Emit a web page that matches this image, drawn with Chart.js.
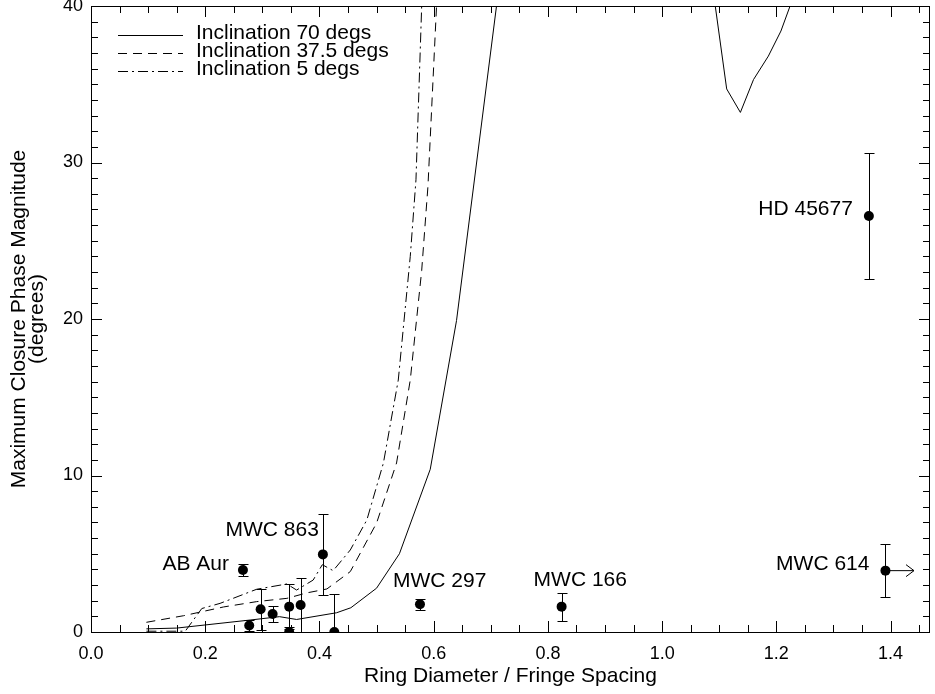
<!DOCTYPE html>
<html>
<head>
<meta charset="utf-8">
<title>Closure phase vs ring diameter</title>
<script src="https://cdn.jsdelivr.net/npm/chart.js@4.4.0/dist/chart.umd.min.js"></script>
<style>
  html, body { margin: 0; padding: 0; background: #fff; }
</style>
</head>
<body>
<canvas id="chart" width="935" height="694"></canvas>
<script>
// observed sources
const names = ['AB Aur', '', '', '', '', '', '', 'MWC 863', '', 'MWC 297', 'MWC 166', 'HD 45677', 'MWC 614'];
const ringDiam = [0.266, 0.277, 0.297, 0.318, 0.347, 0.347, 0.367, 0.406, 0.426, 0.576, 0.824, 1.362, 1.391];
const closurePhase = [3.96, 0.42, 1.45, 1.15, 1.62, 0.0, 1.73, 4.96, 0.0, 1.77, 1.62, 26.58, 3.92];
const phaseErr = [0.4, 0.35, 1.3, 0.5, 1.45, 0.3, 1.7, 2.6, 2.4, 0.36, 0.9, 4.0, 1.7];
const lowerLimit = [false, false, false, false, false, false, false, false, false, false, false, false, true];

// model curves (values above 40 run off the top of the plot)
const incl70X = [0.097, 0.15, 0.28, 0.33, 0.36, 0.43, 0.455, 0.50, 0.54, 0.594, 0.64, 0.71, 0.74, 1.07, 1.093, 1.113, 1.137, 1.160, 1.186, 1.208, 1.224, 1.24];
const incl70Y = [0.2, 0.25, 0.77, 0.98, 0.80, 1.23, 1.55, 2.8, 5.0, 10.4, 19.9, 40, 48, 46, 40, 34.7, 33.2, 35.3, 36.8, 38.4, 40, 44];
const incl375X = [0.097, 0.162, 0.232, 0.29, 0.343, 0.378, 0.413, 0.454, 0.50, 0.535, 0.559, 0.579, 0.590, 0.605, 0.61];
const incl375Y = [0.62, 1.04, 1.6, 1.94, 2.15, 2.5, 2.75, 3.86, 6.96, 10.8, 16.1, 23.1, 28.5, 40, 46];
const incl5X = [0.097, 0.165, 0.194, 0.226, 0.29, 0.343, 0.36, 0.389, 0.405, 0.424, 0.454, 0.483, 0.512, 0.538, 0.559, 0.569, 0.579, 0.59];
const incl5Y = [0.05, 0.05, 1.5, 1.83, 2.73, 3.07, 2.68, 3.32, 4.3, 3.92, 5.24, 7.16, 10.8, 16.1, 24.0, 28.9, 40, 50];

const xTickValues = [0, 0.2, 0.4, 0.6, 0.8, 1.0, 1.2, 1.4];
const yTickValues = [0, 10, 20, 30, 40];

const FONT = '"Liberation Sans", Arial, Helvetica, sans-serif';

const toPoints = (xs, ys) => xs.map((v, i) => ({ x: v, y: ys[i] }));

const curve = (label, xs, ys, dash) => ({
  type: 'line',
  label: label,
  data: toPoints(xs, ys),
  borderColor: '#000',
  borderWidth: 1,
  borderDash: dash,
  pointRadius: 0,
  tension: 0,
  fill: false,
});

// label placement next to each named point: [dx, dy, align]
const labelPlace = {
  'AB Aur': [-14, -6, 'right'],
  'MWC 863': [-4, -24, 'right'],
  'MWC 297': [-27, -23, 'left'],
  'MWC 166': [-28, -26, 'left'],
  'HD 45677': [-16, -7, 'right'],
  'MWC 614': [-16, -6, 'right'],
};

const idlAxes = {
  id: 'idlAxes',
  beforeDatasetsDraw(chart) {
    const { ctx, chartArea: a, scales: { x, y } } = chart;
    ctx.save();
    ctx.beginPath();
    ctx.rect(a.left, a.top, a.right - a.left, a.bottom - a.top);
    ctx.clip();
    ctx.strokeStyle = '#000';
    ctx.lineWidth = 1;
    ringDiam.forEach((v, i) => {
      const px = Math.round(x.getPixelForValue(v)) + 0.5;
      const py = y.getPixelForValue(closurePhase[i]);
      const top = Math.round(y.getPixelForValue(closurePhase[i] + phaseErr[i])) + 0.5;
      const bot = Math.round(y.getPixelForValue(closurePhase[i] - phaseErr[i])) + 0.5;
      ctx.beginPath();
      ctx.moveTo(px, top); ctx.lineTo(px, bot);
      ctx.moveTo(px - 5, top); ctx.lineTo(px + 5, top);
      ctx.moveTo(px - 5, bot); ctx.lineTo(px + 5, bot);
      if (lowerLimit[i]) {
        const tip = x.getPixelForValue(v + 0.05);
        ctx.moveTo(px, py); ctx.lineTo(tip, py);
        ctx.moveTo(tip - 8, py - 6); ctx.lineTo(tip, py); ctx.lineTo(tip - 8, py + 6);
      }
      ctx.stroke();
    });
    ctx.restore();
  },
  afterDraw(chart) {
    const { ctx, chartArea: a, scales: { x, y } } = chart;
    ctx.save();
    ctx.strokeStyle = '#000';
    ctx.lineWidth = 1;
    // frame
    ctx.strokeRect(a.left + 0.5, a.top + 0.5, a.right - a.left - 1, a.bottom - a.top);
    // inward ticks
    ctx.beginPath();
    for (let i = 0; i * 0.05 <= x.max + 1e-9; i++) {
      const px = Math.round(x.getPixelForValue(i * 0.05)) + 0.5;
      const len = i % 4 === 0 ? 11 : 7;
      ctx.moveTo(px, a.bottom); ctx.lineTo(px, a.bottom - len);
      ctx.moveTo(px, a.top); ctx.lineTo(px, a.top + len);
    }
    for (let j = 0; j <= 40; j++) {
      const py = Math.round(y.getPixelForValue(j)) + 0.5;
      const len = j % 10 === 0 ? 11 : 7;
      ctx.moveTo(a.left, py); ctx.lineTo(a.left + len, py);
      ctx.moveTo(a.right, py); ctx.lineTo(a.right - len, py);
    }
    ctx.stroke();

    // source names
    ctx.fillStyle = '#000';
    ctx.font = '21px ' + FONT;
    ctx.textBaseline = 'middle';
    names.forEach((n, i) => {
      if (!n) return;
      const p = labelPlace[n];
      ctx.textAlign = p[2];
      ctx.fillText(n, x.getPixelForValue(ringDiam[i]) + p[0], y.getPixelForValue(closurePhase[i]) + p[1]);
    });

    // legend
    ctx.textAlign = 'left';
    chart.data.datasets.filter(d => d.type === 'line').forEach((d, k) => {
      const rowY = a.top + 27 + k * 18;
      ctx.setLineDash(d.borderDash || []);
      ctx.beginPath();
      ctx.moveTo(a.left + 27, rowY + 2.5);
      ctx.lineTo(a.left + 92, rowY + 2.5);
      ctx.stroke();
      ctx.setLineDash([]);
      ctx.fillText(d.label, a.left + 105, rowY);
    });
    ctx.restore();
  },
};

new Chart(document.getElementById('chart'), {
  data: {
    datasets: [
      curve('Inclination 70 degs', incl70X, incl70Y, []),
      curve('Inclination 37.5 degs', incl375X, incl375Y, [9, 6]),
      curve('Inclination 5 degs', incl5X, incl5Y, [10, 4, 2, 4]),
      {
        type: 'scatter',
        label: 'sources',
        data: toPoints(ringDiam, closurePhase),
        pointRadius: 5,
        pointBackgroundColor: '#000',
        pointBorderWidth: 0,
        showLine: false,
      },
    ],
  },
  options: {
    responsive: false,
    animation: false,
    layout: { padding: { top: 6, right: 5, left: 0, bottom: 0 } },
    plugins: {
      legend: { display: false },
      tooltip: { enabled: false },
    },
    scales: {
      x: {
        type: 'linear',
        min: 0,
        max: 1.469,
        grid: { display: false, drawTicks: false },
        border: { display: false },
        afterBuildTicks: s => { s.ticks = xTickValues.map(v => ({ value: v })); },
        afterFit: s => { s.height = 62; s.paddingLeft = 0; s.paddingRight = 0; },
        ticks: {
          color: '#000',
          padding: 11,
          maxRotation: 0,
          font: { family: FONT, size: 18 },
          callback: v => v.toFixed(1),
        },
        title: {
          display: true,
          text: 'Ring Diameter / Fringe Spacing',
          color: '#000',
          font: { family: FONT, size: 21 },
          padding: { top: 0, bottom: 5 },
        },
      },
      y: {
        type: 'linear',
        min: 0,
        max: 40,
        grid: { display: false, drawTicks: false },
        border: { display: false },
        afterBuildTicks: s => { s.ticks = yTickValues.map(v => ({ value: v })); },
        afterFit: s => { s.width = 91; s.paddingTop = 0; s.paddingBottom = 0; },
        ticks: {
          color: '#000',
          padding: 8,
          font: { family: FONT, size: 18 },
        },
        title: {
          display: true,
          text: ['Maximum Closure Phase Magnitude', '(degrees)'],
          color: '#000',
          font: { family: FONT, size: 21, lineHeight: 0.87 },
          padding: { top: 10, bottom: 0 },
        },
      },
    },
  },
  plugins: [idlAxes],
});
</script>
</body>
</html>
